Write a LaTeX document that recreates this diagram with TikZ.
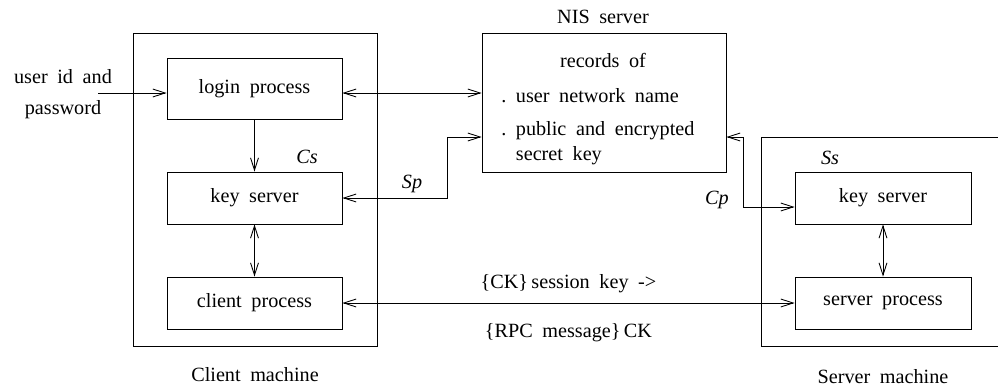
\documentclass[tikz,border=0pt]{standalone}
\usepackage{fontspec}
\setmainfont{Liberation Serif}[WordSpace=1.9]
\usetikzlibrary{positioning}
\usetikzlibrary{arrows.meta}
\tikzset{%
  onearrow/.style = {-{Straight Barb[length=7pt,width=4.5pt]}},
  twoarrow/.style = {{Straight Barb[length=7pt,width=4.5pt]}-{Straight Barb[length=7pt,width=4.5pt]}},
  proc/.style = {rectangle,draw,minimum width=3.5cm,
        minimum height=1.04cm},
  machine/.style = {rectangle,draw,minimum width=4.88cm,
        minimum height=6.26cm},
  key/.style = {font=\fontsize{11.5}{14}\itshape}
}

\begin{document}
\begin{tikzpicture}[x=0.02cm,y=-0.02cm,line width=0.5pt,
    font=\fontsize{11.5}{14}\selectfont]
        \useasboundingbox (0,0) rectangle (998,389);

        % client machine
        \node[machine] (cmach) at (255,189.5) {};
        \node (cname) at (255,375) {Client machine};
        \node[proc,minimum height=1.22cm] (login) at (254.5,88.5) {login process};
        \node[proc] (ckey) at (254.5,198) {key server};
        \node[proc] (cproc) at (254.5,303) {client process};
        \node[key] (cs) at (307,157) {Cs};
        \node[align=center] (user) at (63,94) {user id and\\[4pt]password};
        \coordinate (in) at (98,93);

        % NIS server
        \node[rectangle,draw,minimum width=4.88cm,minimum height=2.78cm] (nis) at (604,102.5) {};
        \node (nisname) at (603,17) {NIS server};
        \node (rec) at (603,60) {records of};
        \node[anchor=west] (rec-1) at (495,96) {.\ user network name};
        \node[anchor=west,align=left] (rec-2) at (495,143) {.\ public and encrypted\\\hphantom{.\ }secret key};

        % server machine
        \draw (998,137) -- (761,137) -- (761,346) -- (998,346);
        \node (sname) at (883,377) {Server machine};
        \node[proc,minimum width=3.52cm] (skey) at (883,198) {key server};
        \node[proc,minimum width=3.52cm] (sproc) at (883,303) {server process};
        \node[key] (ss) at (830,158) {Ss};

        \coordinate (sp) at (447,137);
        \coordinate (cp) at (743,137);
        \node[key] (splbl) at (412,184) {Sp};
        \node[key] (cplbl) at (717,200) {Cp};

        \draw[onearrow] (in) -- (in -| login.west);
        \draw[twoarrow] (login.east |- in) -- (nis.west |- in);
        \draw[onearrow] (login) -- (ckey);
        \draw[twoarrow] (ckey) -- (cproc);
        \draw[twoarrow] (ckey.east) -| (sp) -- (sp -| nis.west);
        \draw[twoarrow] (nis.east |- cp) -- (cp) -- ++(0,70) -- (skey.west |- 0,207);
        \draw[twoarrow] (skey) -- (sproc);
        \draw[twoarrow] (cproc) -- (sproc)
            node[midway,above=2pt] (ck) {\{CK\}\,session key ->}
            node[midway,below=8pt] (rpc) {\{RPC message\}\,CK};

    \end{tikzpicture}
\end{document}
